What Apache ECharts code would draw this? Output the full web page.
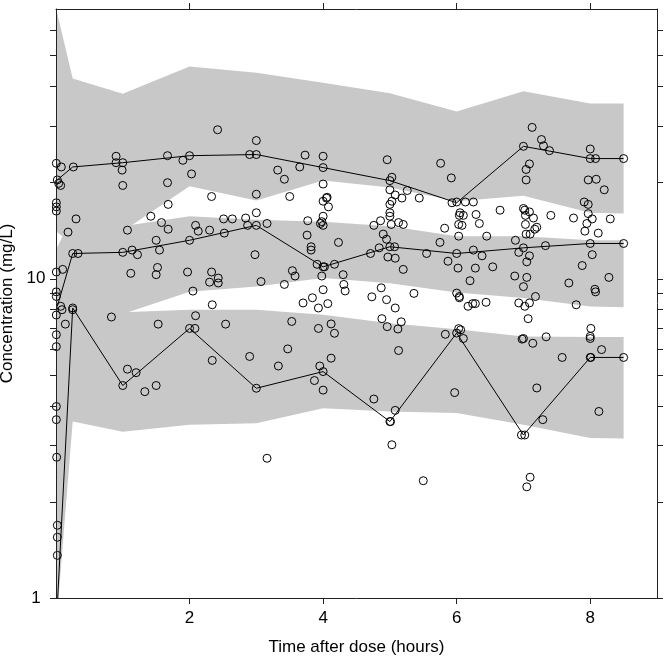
<!DOCTYPE html>
<html><head><meta charset="utf-8">
<script src="https://cdn.jsdelivr.net/npm/echarts@6/dist/echarts.min.js"></script>
<style>html,body{margin:0;padding:0;background:#fff}#c{width:666px;height:657px}</style>
</head><body><div id="c"></div>
<script>
// Time nodes of the prediction bands and observed percentile lines
const bandT = [0, 0.25, 1, 2, 3, 4, 5, 6, 7, 8, 8.5];
const hiUp  = [70.5, 42.4, 38.0, 46.2, 44.2, 41.1, 38.1, 33.4, 38.7, 35.4, 35.4];
const hiLo  = [14.1, 12.8, 14.1, 19.5, 17.6, 20.3, 19.3, 17.5, 18.2, 16.1, 16.0];
const midUp = [12.3, 15.8, 14.6, 15.7, 15.3, 15.1, 14.6, 13.6, 13.6, 13.2, 13.2];
const midLo = [5.0, 6.5, 7.75, 9.1, 9.46, 10.05, 9.69, 9.05, 8.7, 8.19, 8.15];
const loUp  = [6.0, 8.5, 7.85, 8.0, 8.0, 7.72, 7.26, 6.95, 6.6, 6.57, 6.57];
const loLo  = [0.8, 3.57, 3.32, 3.49, 3.53, 3.93, 3.84, 3.8, 3.49, 3.17, 3.16];

const obsT = [0.02, 0.25, 1, 2, 3, 4, 5, 6, 7, 8, 8.5];
const obs95 = [20.4, 22.4, 23.1, 24.3, 24.5, 22.3, 20.3, 17.3, 26.0, 23.8, 23.8];
const obs50 = [8.2, 12.0, 12.1, 13.2, 14.7, 10.9, 12.6, 12.0, 12.5, 12.9, 12.9];
const obs05 = [0.95, 8.1, 4.63, 6.99, 4.54, 5.12, 3.57, 6.76, 3.24, 5.67, 5.67];

// Observed concentrations [time, conc]
const observations = [
 [0.005,23.0],[0.02,20.4],[0.04,19.9],[0.07,19.6],[0.005,17.3],[0.005,16.8],[0.005,16.3],[0.005,10.5],[0.005,9.1],[0.005,8.8],[0.005,7.7],[0.005,6.68],[0.005,6.13],[0.005,3.98],[0.005,3.62],[0.01,2.76],[0.02,1.69],[0.02,1.55],[0.02,1.36],
 [0.08,22.4],[0.26,22.4],[0.30,15.4],[0.18,14.0],[0.25,12.0],[0.33,12.0],[0.10,10.7],[0.07,8.2],[0.09,8.0],[0.25,8.1],[0.25,8.0],[0.14,7.21],
 [0.90,24.2],[0.90,23.1],[1.0,23.1],[0.99,21.9],[1.0,19.6],[1.07,14.2],[1.0,12.1],[1.14,12.3],[1.22,11.9],[1.12,10.4],[0.83,7.59],[1.07,5.21],[1.2,5.08],[1.0,4.63],[1.33,4.43],[1.5,4.63],
 [1.67,24.3],[1.67,20.0],[1.68,17.1],[1.42,15.7],[1.58,15.0],[1.68,14.3],[1.5,13.2],[1.55,12.3],[1.52,10.85],[1.5,10.3],[1.53,7.21],
 [1.90,23.5],[2.0,24.3],[2.03,21.3],[2.09,14.7],[2.13,14.1],[2.0,13.2],[1.97,10.5],[2.05,9.15],[2.09,7.66],[2.0,6.99],[2.08,6.99],
 [2.42,29.3],[2.33,18.1],[2.30,14.2],[2.51,15.4],[2.64,15.4],[2.84,15.5],[2.87,14.7],[2.52,13.9],[2.33,10.5],[2.30,9.76],[2.43,10.05],[2.43,9.7],[2.34,8.29],[2.54,7.21],[2.9,5.71],[2.34,5.55],[2.9,24.5],
 [3.0,27.1],[3.0,24.5],[3.0,18.4],[3.0,16.1],[3.0,14.7],[2.98,11.9],[3.07,9.8],[3.0,4.54],[3.16,14.9],[3.16,2.74],
 [3.73,24.4],[3.65,22.4],[3.32,21.9],[3.42,20.5],[3.5,18.1],[3.77,15.2],[3.76,13.7],[3.82,12.6],[3.82,12.3],[3.91,11.1],[3.54,10.6],[3.58,10.2],[3.42,9.6],[3.84,8.72],[3.7,8.4],[3.93,8.1],[3.53,7.35],[3.93,6.99],[3.47,6.03],[3.33,5.33],[3.95,5.33],[3.87,4.8],
 [4.0,24.2],[4.0,22.3],[4.0,19.8],[4.05,17.9],[4.0,17.5],[4.06,18.0],[4.08,16.8],[4.0,15.7],[3.96,14.9],[4.0,14.7],[3.98,15.1],[4.0,10.9],[4.02,10.9],[4.17,11.1],[3.98,10.2],[4.0,9.24],[4.07,8.36],[4.23,13.0],[4.30,10.3],[4.31,9.6],[4.33,9.16],[4.12,7.22],[4.17,6.75],[4.12,5.64],[4.0,5.12],[4.0,4.48],
 [4.96,23.6],[5.0,20.3],[5.03,20.8],[5.0,19.0],[5.08,18.3],[5.03,17.5],[5.0,17.1],[5.26,18.9],[5.18,17.9],[5.44,17.9],[5.0,16.1],[5.0,15.7],[5.13,15.0],[5.2,14.8],[4.86,15.2],[4.76,14.7],[5.02,14.8],[4.9,13.8],[4.95,13.3],[5.0,12.6],[5.07,12.6],[4.97,11.7],[5.08,11.6],[4.84,12.5],[4.71,12.0],[5.2,10.7],[5.55,12.0],[4.87,9.37],[4.73,8.78],[4.95,8.6],[5.08,8.1],[5.36,9.0],[4.88,7.5],[4.96,7.08],[5.12,6.96],[5.17,7.33],[5.13,5.96],[4.76,4.2],[5.08,3.87],[5.0,3.57],[5.01,3.57],[5.03,3.02],[5.5,2.33],
 [5.76,23.0],[5.92,20.7],[5.93,17.3],[6.0,17.4],[6.13,17.4],[6.25,17.4],[6.05,16.1],[6.1,15.8],[6.04,15.8],[6.29,15.9],[6.34,14.9],[6.03,14.8],[6.08,14.7],[6.45,13.6],[6.03,13.6],[6.65,16.4],[5.82,14.4],[5.75,13.0],[6.0,12.0],[5.87,11.35],[6.02,10.8],[6.25,12.3],[6.38,11.8],[6.28,10.8],[6.54,10.9],[6.2,9.86],[6.0,9.02],[6.04,8.8],[6.04,8.72],[6.17,8.2],[6.24,8.36],[6.28,8.36],[6.44,8.44],[6.0,6.76],[6.03,6.98],[6.06,6.92],[6.1,6.5],[5.83,6.7],[5.97,4.4],
 [7.13,29.8],[7.27,27.3],[7.3,26.1],[7.39,25.2],[7.0,26.0],[7.09,22.9],[7.04,22.0],[7.04,20.4],[7.0,16.6],[7.02,16.4],[7.09,16.2],[7.03,15.8],[7.15,15.5],[7.2,14.5],[7.17,14.3],[7.1,13.8],[7.04,13.8],[7.03,14.8],[6.88,13.2],[6.93,12.1],[7.0,12.5],[7.09,11.8],[7.33,12.7],[7.05,11.3],[7.41,15.8],[6.87,10.2],[7.05,10.1],[7.0,9.45],[7.18,8.8],[6.93,8.4],[7.02,8.2],[7.09,8.4],[7.07,7.5],[7.0,6.5],[6.98,6.47],[7.14,6.28],[7.34,6.58],[7.2,4.55],[7.29,3.62],[6.97,3.24],[7.02,3.24],[7.1,2.39],[7.05,2.23],
 [8.0,25.5],[8.0,23.8],[8.08,23.8],[8.5,23.8],[7.97,20.4],[8.09,20.5],[8.21,19.0],[7.91,17.4],[7.97,17.1],[7.97,16.0],[8.03,15.4],[7.92,14.1],[7.95,14.9],[8.12,13.9],[8.3,15.4],[7.75,15.5],[8.0,12.9],[8.5,12.9],[8.03,11.9],[7.88,11.0],[8.28,10.1],[7.68,9.7],[8.07,9.27],[8.08,9.1],[7.79,8.29],[8.01,6.99],[8.0,6.6],[8.0,6.5],[8.17,6.0],[8.0,5.67],[8.01,5.67],[8.5,5.67],[7.58,5.67],[8.13,3.84]
];

const xTicks = [2, 4, 6, 8];
const yTicks = [1, 2, 3, 4, 5, 6, 7, 8, 9, 10, 20, 30, 40, 50, 60];
const yLabels = [1, 10];

const FONT = 'Liberation Sans, Arial, sans-serif';
const AX = '#222';
const FS = 17;

function bandSeries(up, lo) {
  return {
    type: 'custom', clip: true, silent: true, z: 1,
    data: [[4, 10]],
    renderItem: function (params, api) {
      const pts = [];
      for (let i = 0; i < bandT.length; i++) pts.push(api.coord([bandT[i], up[i]]));
      for (let i = bandT.length - 1; i >= 0; i--) pts.push(api.coord([bandT[i], lo[i]]));
      return { type: 'polygon', shape: { points: pts }, style: { fill: '#c8c8c8', stroke: null } };
    }
  };
}
function lineSeries(vals) {
  return {
    type: 'line', clip: true, silent: true, z: 3, showSymbol: false, symbol: 'none',
    data: obsT.map((t, i) => [t, vals[i]]),
    lineStyle: { color: '#000', width: 1 }
  };
}

const chart = echarts.init(document.getElementById('c'), null, { renderer: 'canvas' });
chart.setOption({
  animation: false,
  backgroundColor: '#fff',
  grid: { left: 56, top: 9, right: 9, bottom: 59, containLabel: false, outerBoundsMode: 'none' },
  xAxis: [
    { type: 'value', position: 'bottom', min: 0, max: 9, z: 10,
      axisLine: { show: true, onZero: false, lineStyle: { color: AX, width: 1 } },
      axisTick: { show: true, customValues: xTicks, length: 6, lineStyle: { color: AX } },
      axisLabel: { show: true, customValues: xTicks, margin: 12, fontSize: FS, color: '#000', fontFamily: FONT },
      splitLine: { show: false },
      name: 'Time after dose (hours)', nameLocation: 'middle', nameGap: 41,
      nameTextStyle: { fontSize: FS, color: '#000', fontFamily: FONT } },
    { type: 'value', position: 'top', min: 0, max: 9, z: 10,
      axisLine: { show: true, onZero: false, lineStyle: { color: AX, width: 1 } },
      axisTick: { show: true, customValues: xTicks, length: 6, lineStyle: { color: AX } },
      axisLabel: { show: false }, splitLine: { show: false } }
  ],
  yAxis: [
    { type: 'log', logBase: 10, position: 'left', min: 1, max: 70, z: 10,
      axisLine: { show: true, onZero: false, lineStyle: { color: AX, width: 1 } },
      axisTick: { show: true, customValues: yTicks, length: 6, lineStyle: { color: AX } },
      axisLabel: { show: true, customValues: yLabels, margin: 20, align: 'center', fontSize: FS, color: '#000', fontFamily: FONT },
      splitLine: { show: false }, minorTick: { show: false },
      name: 'Concentration (mg/L)', nameLocation: 'middle', nameGap: 38,
      nameTextStyle: { fontSize: FS, color: '#000', fontFamily: FONT } },
    { type: 'log', logBase: 10, position: 'right', min: 1, max: 70, z: 10,
      axisLine: { show: true, onZero: false, lineStyle: { color: AX, width: 1 } },
      axisTick: { show: true, customValues: yTicks, length: 6, lineStyle: { color: AX } },
      axisLabel: { show: false }, splitLine: { show: false } }
  ],
  series: [
    bandSeries(hiUp, hiLo),
    bandSeries(midUp, midLo),
    bandSeries(loUp, loLo),
    lineSeries(obs95),
    lineSeries(obs50),
    lineSeries(obs05),
    { type: 'scatter', clip: true, silent: true, z: 4, symbol: 'circle', symbolSize: 8,
      data: observations,
      itemStyle: { color: 'rgba(0,0,0,0)', borderColor: '#000', borderWidth: 1, opacity: 1 } }
  ]
});
</script></body></html>
